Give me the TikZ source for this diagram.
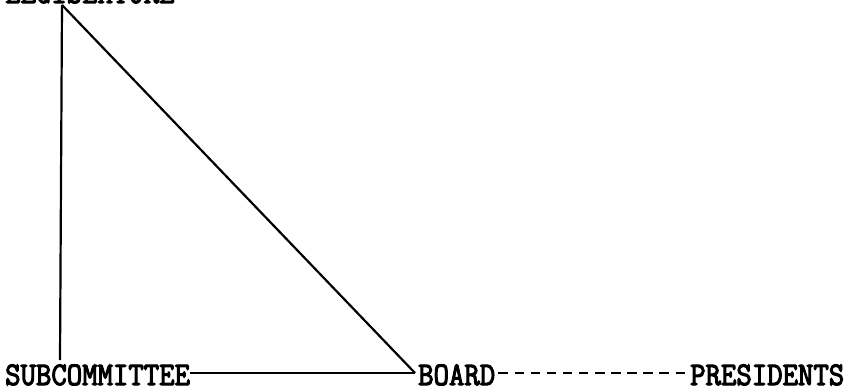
\documentclass[tikz,border=0pt]{standalone}
\usepackage{fontspec}
\newfontfamily\typer{Latin Modern Mono}[FakeBold=3.5]
\usepackage{tikz}
\usetikzlibrary{positioning}

\begin{document}
\begin{tikzpicture}[
  x=1pt,y=1pt,
  unit/.style={inner sep=0pt,anchor=base west,font=\typer\fontsize{29.9}{34}\selectfont},
  link/.style={line width=2.2pt,black},
  loose/.style={line width=2.2pt,black,dash pattern=on 9.5pt off 6.6pt,dash phase=-3pt}
]
\useasboundingbox (0,0) rectangle (853,391);
\node[unit] (leg) at (5,388) {\scalebox{1}[1.1]{LEGISLATURE}};
\node[unit] (sub) at (5,6) {\scalebox{1}[1.1]{SUBCOMMITTEE}};
\node[unit] (board) at (418,6) {\scalebox{1}[1.1]{BOARD}};
\node[unit] (pres) at (690,6) {\scalebox{1}[1.1]{PRESIDENTS}};
\coordinate (apex) at ([xshift=57pt,yshift=-2pt]leg.base west);
\coordinate (tip) at ([xshift=-3pt,yshift=12pt]board.base west);
\draw[link] ([xshift=55pt,yshift=25pt]sub.base west) -- (apex);
\draw[link] (apex) -- (tip);
\draw[link] ([yshift=12pt]sub.base east) -- (tip);
\draw[loose] ([yshift=12pt]board.base east) -- ([yshift=12pt]pres.base west);
\end{tikzpicture}
\end{document}
